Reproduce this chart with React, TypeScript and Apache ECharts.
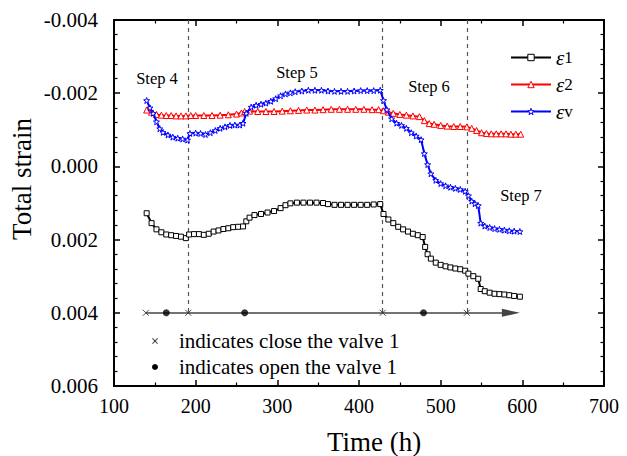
import React, { useEffect, useRef } from "react";
import * as echarts from "echarts";

// strain values are given in units of 1e-3
const SCALE = 1e-3;

const e1Time = [140,146,152,158,164,170,176,182,188,192,198,204,210,216,222,228,234,240,246,252,258,262,266,272,280,288,296,304,310,316,324,332,340,348,356,362,370,378,386,394,402,410,418,426,430,436,442,448,454,460,466,472,478,481,484,488,494,500,506,512,518,524,530,534,540,546,549,554,560,566,572,578,584,590,597];
const e1Vals = [1.28,1.55,1.72,1.80,1.86,1.88,1.90,1.92,1.96,1.86,1.85,1.85,1.87,1.84,1.78,1.75,1.71,1.69,1.66,1.65,1.64,1.50,1.40,1.33,1.30,1.26,1.22,1.14,1.06,1.01,0.99,0.99,0.99,0.99,1.00,1.03,1.05,1.05,1.05,1.05,1.05,1.05,1.04,1.03,1.30,1.45,1.55,1.65,1.72,1.78,1.84,1.88,1.93,2.20,2.40,2.52,2.63,2.69,2.73,2.76,2.79,2.81,2.85,2.93,3.00,3.07,3.35,3.41,3.45,3.48,3.49,3.50,3.52,3.54,3.56];

const e2Time = [140,146,152,158,164,170,176,182,188,194,200,210,220,230,240,250,256,260,266,276,286,296,306,316,326,336,346,356,366,376,386,396,406,416,424,430,436,442,450,458,466,474,480,486,492,500,508,516,524,532,538,544,550,556,562,568,574,580,586,592,598];
const e2Vals = [-1.54,-1.48,-1.42,-1.40,-1.39,-1.39,-1.38,-1.38,-1.38,-1.39,-1.39,-1.39,-1.39,-1.40,-1.41,-1.43,-1.46,-1.50,-1.51,-1.50,-1.50,-1.50,-1.51,-1.52,-1.53,-1.54,-1.54,-1.55,-1.56,-1.56,-1.56,-1.56,-1.56,-1.55,-1.55,-1.52,-1.48,-1.45,-1.42,-1.40,-1.38,-1.36,-1.25,-1.17,-1.15,-1.12,-1.10,-1.09,-1.09,-1.08,-1.04,-0.98,-0.92,-0.90,-0.89,-0.89,-0.89,-0.89,-0.88,-0.88,-0.88];

const evTime = [140,144,148,152,156,160,166,172,178,184,190,193,200,206,212,218,224,230,236,242,248,254,258,262,268,274,280,286,292,298,304,310,316,322,330,338,346,354,362,370,378,386,394,402,410,418,426,430,434,440,446,452,458,464,470,476,480,484,488,494,500,506,512,518,524,530,534,538,542,546,549,554,560,566,572,578,584,590,597];
const evVals = [-1.80,-1.60,-1.45,-1.22,-1.03,-0.93,-0.86,-0.80,-0.77,-0.75,-0.72,-0.90,-0.91,-0.90,-0.87,-0.92,-0.98,-1.04,-1.08,-1.12,-1.13,-1.13,-1.18,-1.45,-1.62,-1.67,-1.70,-1.73,-1.78,-1.85,-1.93,-1.98,-2.01,-2.04,-2.06,-2.08,-2.08,-2.08,-2.06,-2.05,-2.05,-2.05,-2.06,-2.07,-2.07,-2.07,-2.08,-1.80,-1.55,-1.30,-1.18,-1.12,-1.04,-0.92,-0.83,-0.73,-0.35,-0.05,0.20,0.38,0.47,0.53,0.57,0.60,0.63,0.68,0.80,0.95,1.02,1.07,1.55,1.63,1.67,1.70,1.72,1.74,1.76,1.77,1.78];

const seriesNames = ["ε1", "ε2", "εv"];
const seriesColors = ["#000000", "#ff0000", "#0000ff"];
const stepBoundaries = [191, 429, 532];
const closeValveTimes = [139, 191, 429, 532];
const openValveTimes = [164, 260, 479];
const timelineStart = 139;
const timelineEnd = 586;
const timelineLevel = 4; // x1e-3
const stepLabels = ["Step 4", "Step 5", "Step 6", "Step 7"];
const valveNotes = ["indicates close the valve 1", "indicates open the valve 1"];
const xTicks = { min: 100, max: 700, interval: 100 };
const yTicks = { min: -4, max: 6, interval: 2 };

const FONT = "Liberation Serif";
const STAR = "path://M0,-10L2.35,-3.24L9.51,-3.09L3.8,1.24L5.88,8.09L0,4L-5.88,8.09L-3.8,1.24L-9.51,-3.09L-2.35,-3.24Z";
const CROSS = "path://M0,0L10,10M10,0L0,10";

const pair = (t: number[], v: number[]) => t.map((x, i) => [x, v[i] * SCALE]);

export default function App() {
  const ref = useRef<HTMLDivElement>(null);
  useEffect(() => {
    if (!ref.current) return;
    const chart = echarts.init(ref.current, undefined, { renderer: "svg" });
    const axisLine = { show: true, onZero: false, lineStyle: { color: "#000", width: 2 } };
    const tick = { inside: true, length: 6, lineStyle: { color: "#000", width: 1.5 } };
    const fmtY = (v: number) => v.toFixed(3);

    const stepPos = [
      [157, 78],
      [297, 72],
      [429, 86],
      [521, 195],
    ];

    const txt = (text: string, x: number, y: number, size: number, align = "center", extra: any = {}) => ({
      type: "text",
      x,
      y,
      ...extra,
      style: { text, fontFamily: FONT, fontSize: size, fill: "#000", textAlign: align, textVerticalAlign: "middle" },
    });

    const option: any = {
      animation: false,
      textStyle: { fontFamily: FONT },
      grid: { left: 114, right: 23, top: 20, bottom: 70 },
      xAxis: [
        {
          type: "value",
          min: xTicks.min,
          max: xTicks.max,
          interval: xTicks.interval,
          axisLine,
          axisTick: tick,
          minorTick: { show: true, splitNumber: 2, length: 3.5, lineStyle: { color: "#000", width: 1.2 } },
          splitLine: { show: false },
          axisLabel: { color: "#000", fontSize: 20, fontFamily: FONT, margin: 10 },
        },
        {
          type: "value",
          position: "top",
          min: xTicks.min,
          max: xTicks.max,
          interval: xTicks.interval,
          axisLine,
          axisTick: tick,
          minorTick: { show: true, splitNumber: 2, length: 3.5, lineStyle: { color: "#000", width: 1.2 } },
          splitLine: { show: false },
          axisLabel: { show: false },
        },
      ],
      yAxis: [
        {
          type: "value",
          inverse: true,
          min: yTicks.min * SCALE,
          max: yTicks.max * SCALE,
          interval: yTicks.interval * SCALE,
          axisLine,
          axisTick: tick,
          minorTick: { show: true, splitNumber: 5, length: 3.5, lineStyle: { color: "#000", width: 1.2 } },
          splitLine: { show: false },
          axisLabel: { color: "#000", fontSize: 21, fontFamily: FONT, margin: 16, formatter: fmtY },
        },
        {
          type: "value",
          position: "right",
          inverse: true,
          min: yTicks.min * SCALE,
          max: yTicks.max * SCALE,
          interval: yTicks.interval * SCALE,
          axisLine,
          axisTick: tick,
          minorTick: { show: true, splitNumber: 5, length: 3.5, lineStyle: { color: "#000", width: 1.2 } },
          splitLine: { show: false },
          axisLabel: { show: false },
        },
      ],
      legend: {
        data: seriesNames.map((n, i) => ({
          name: n,
          itemStyle: { color: "#fff", borderColor: seriesColors[i], borderWidth: 1 },
        })),
        orient: "vertical",
        left: 505,
        top: 42,
        itemWidth: 40,
        itemHeight: 8,
        itemGap: 6,
        formatter: (name: string) => `{e|ε}{s|${name.slice(1)}}`,
        textStyle: {
          fontFamily: FONT,
          lineHeight: 20,
          rich: {
            e: { fontFamily: FONT, fontStyle: "italic", fontSize: 21, color: "#000", lineHeight: 20 },
            s: { fontFamily: FONT, fontSize: 17, color: "#000", lineHeight: 20 },
          },
        },
      },
      series: [
        {
          name: seriesNames[0],
          type: "line",
          data: pair(e1Time, e1Vals),
          symbol: "rect",
          symbolSize: 5,
          showAllSymbol: true,
          lineStyle: { color: seriesColors[0], width: 2 },
          itemStyle: { color: "#fff", borderColor: seriesColors[0], borderWidth: 1 },
          z: 3,
        },
        {
          name: seriesNames[1],
          type: "line",
          data: pair(e2Time, e2Vals),
          symbol: "triangle",
          symbolSize: 6,
          showAllSymbol: true,
          lineStyle: { color: seriesColors[1], width: 2 },
          itemStyle: { color: "#fff", borderColor: seriesColors[1], borderWidth: 1 },
          z: 3,
        },
        {
          name: seriesNames[2],
          type: "line",
          data: pair(evTime, evVals),
          symbol: STAR,
          symbolSize: 6,
          showAllSymbol: true,
          lineStyle: { color: seriesColors[2], width: 2 },
          itemStyle: { color: "#fff", borderColor: seriesColors[2], borderWidth: 1 },
          z: 4,
        },
        {
          name: "close",
          type: "scatter",
          data: closeValveTimes.map((t) => [t, timelineLevel * SCALE]),
          symbol: CROSS,
          symbolSize: 6,
          itemStyle: { color: "none", borderColor: "#222", borderWidth: 1 },
          z: 5,
          markLine: {
            silent: true,
            symbol: ["none", "none"],
            label: { show: false },
            z: 1,
            data: [
              ...stepBoundaries.map((t) => [
                { coord: [t, yTicks.min * SCALE], lineStyle: { type: [4, 4], color: "#555", width: 1.2 } },
                { coord: [t, timelineLevel * SCALE] },
              ]),
              [
                { coord: [timelineStart, timelineLevel * SCALE], symbol: "none", lineStyle: { type: "solid", color: "#444", width: 1.5 } },
                { coord: [timelineEnd, timelineLevel * SCALE], symbol: "triangle", symbolSize: [8, 18] },
              ],
            ],
          },
        },
        {
          name: "open",
          type: "scatter",
          data: openValveTimes.map((t) => [t, timelineLevel * SCALE]),
          symbol: "circle",
          symbolSize: 7,
          itemStyle: { color: "#000" },
          z: 5,
        },
      ],
      graphic: [
        ...stepLabels.map((s, i) => txt(s, stepPos[i][0], stepPos[i][1], 16.5)),
        txt("×", 155, 341, 14),
        {
          type: "circle",
          shape: { cx: 155, cy: 367, r: 3 },
          style: { fill: "#000" },
        },
        ...valveNotes.map((s, i) => txt(s, 179, 341 + i * 26, 21, "left")),
        txt("Time (h)", 374, 442, 27),
        txt("Total strain", 22, 179, 27, "center", { rotation: Math.PI / 2 }),
      ],
    };
    chart.setOption(option);
    return () => chart.dispose();
  }, []);
  return (
    <div
      ref={ref}
      style={{ position: "absolute", left: 0, top: 0, width: 627, height: 456, background: "#fff" }}
    />
  );
}
